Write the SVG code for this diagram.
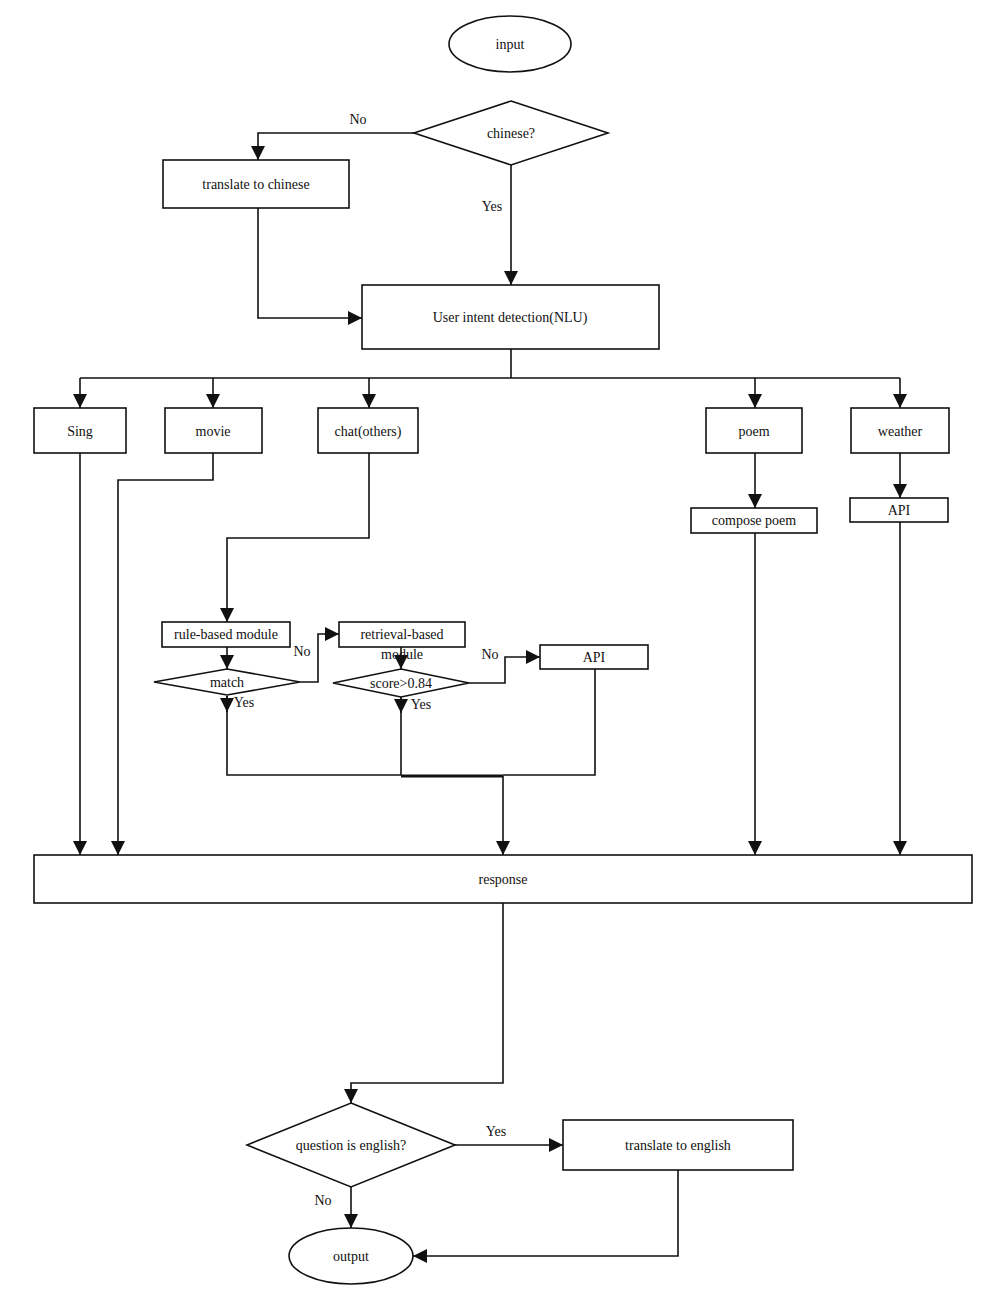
<svg xmlns="http://www.w3.org/2000/svg" width="1001" height="1307" viewBox="0 0 1001 1307">
<style>
.s{fill:#fff;stroke:#111;stroke-width:1.6}
.c{fill:none;stroke:#111;stroke-width:1.6}
text{font-family:"Liberation Serif",serif;font-size:14px;fill:#111;text-anchor:middle;dominant-baseline:central}
</style>
<defs><marker id="a" viewBox="0 0 10 10" refX="10" refY="5" markerWidth="9" markerHeight="9" markerUnits="userSpaceOnUse" orient="auto"><path d="M0,0L10,5L0,10z" fill="#111"/></marker>
<marker id="b" viewBox="0 0 10 10" refX="10" refY="5" markerWidth="14" markerHeight="14" markerUnits="userSpaceOnUse" orient="auto"><path d="M0,0L10,5L0,10z" fill="#111"/></marker></defs>
<rect width="1001" height="1307" fill="#fff"/>
<g id="connectors">
<path class="c" d="M414,133H258V160" marker-end="url(#b)"/>
<path class="c" d="M511,165V285" marker-end="url(#b)"/>
<path class="c" d="M258,208V318H362" marker-end="url(#b)"/>
<path class="c" d="M511,349V378M80,378H900"/>
<path class="c" d="M80,378V408" marker-end="url(#b)"/>
<path class="c" d="M213,378V408" marker-end="url(#b)"/>
<path class="c" d="M369,378V408" marker-end="url(#b)"/>
<path class="c" d="M755,378V408" marker-end="url(#b)"/>
<path class="c" d="M900,378V408" marker-end="url(#b)"/>
<path class="c" d="M80,453V855" marker-end="url(#b)"/>
<path class="c" d="M213,453V480H118V855" marker-end="url(#b)"/>
<path class="c" d="M369,453V538H227V622" marker-end="url(#b)"/>
<path class="c" d="M227,647V669" marker-end="url(#b)"/>
<path class="c" d="M300,682H318V634H339" marker-end="url(#b)"/>
<path class="c" d="M401,647V669" marker-end="url(#b)"/>
<path class="c" d="M469,683H505V657H540" marker-end="url(#b)"/>
<path class="c" d="M227,696V775H401M595,669V775H503"/>
<path class="c" d="M227,712V696" marker-end="url(#b)" transform="rotate(180 227 704)"/>
<path class="c" d="M401,697V775"/>
<path class="c" d="M401,713V697" marker-end="url(#b)" transform="rotate(180 401 705)"/>
<path fill="none" stroke="#111" stroke-width="3" d="M401,776H503"/>
<path class="c" d="M503,776V855" marker-end="url(#b)"/>
<path class="c" d="M755,453V508" marker-end="url(#b)"/>
<path class="c" d="M755,533V855" marker-end="url(#b)"/>
<path class="c" d="M900,453V498" marker-end="url(#b)"/>
<path class="c" d="M900,522V855" marker-end="url(#b)"/>
<path class="c" d="M503,903V1083H351V1103" marker-end="url(#b)"/>
<path class="c" d="M455,1145H563" marker-end="url(#b)"/>
<path class="c" d="M351,1187V1228" marker-end="url(#b)"/>
<path class="c" d="M678,1170V1256H413" marker-end="url(#b)"/>
<text x="358" y="119">No</text><text x="492" y="206">Yes</text>
<text x="302" y="651">No</text><text x="244" y="702">Yes</text>
<text x="490" y="654">No</text><text x="421" y="704">Yes</text>
<text x="496" y="1131">Yes</text><text x="323" y="1200">No</text>
</g>
<g id="input"><ellipse class="s" cx="510" cy="44" rx="61" ry="28"/><text x="510" y="44">input</text></g>
<g id="chinese"><polygon class="s" points="511,101 608,133 511,165 414,133"/><text x="511" y="133">chinese?</text></g>
<g id="translate-cn"><rect class="s" x="163" y="160" width="186" height="48"/><text x="256" y="184">translate to chinese</text></g>
<g id="nlu"><rect class="s" x="362" y="285" width="297" height="64"/><text x="510" y="317">User intent detection(NLU)</text></g>
<g id="sing"><rect class="s" x="34" y="408" width="92" height="45"/><text x="80" y="431">Sing</text></g>
<g id="movie"><rect class="s" x="165" y="408" width="97" height="45"/><text x="213" y="431">movie</text></g>
<g id="chat"><rect class="s" x="318" y="408" width="100" height="45"/><text x="368" y="431">chat(others)</text></g>
<g id="poem"><rect class="s" x="706" y="408" width="96" height="45"/><text x="754" y="431">poem</text></g>
<g id="weather"><rect class="s" x="851" y="408" width="98" height="45"/><text x="900" y="431">weather</text></g>
<g id="compose"><rect class="s" x="691" y="508" width="126" height="25"/><text x="754" y="520">compose poem</text></g>
<g id="api-weather"><rect class="s" x="850" y="498" width="98" height="24"/><text x="899" y="510">API</text></g>
<g id="rule"><rect class="s" x="162" y="622" width="128" height="25"/><text x="226" y="634">rule-based module</text></g>
<g id="retrieval"><rect class="s" x="339" y="622" width="126" height="25"/><text x="402" y="634">retrieval-based</text><text x="402" y="654">module</text></g>
<g id="api-chat"><rect class="s" x="540" y="645" width="108" height="24"/><text x="594" y="657">API</text></g>
<g id="match"><polygon class="s" points="227,669 300,682 227,695 154,682"/><text x="227" y="682">match</text></g>
<g id="score"><polygon class="s" points="401,669 469,683 401,697 333,683"/><text x="401" y="683">score&gt;0.84</text></g>
<g id="response"><rect class="s" x="34" y="855" width="938" height="48"/><text x="503" y="879">response</text></g>
<g id="question"><polygon class="s" points="351,1103 455,1145 351,1187 247,1145"/><text x="351" y="1145">question is english?</text></g>
<g id="translate-en"><rect class="s" x="563" y="1120" width="230" height="50"/><text x="678" y="1145">translate to english</text></g>
<g id="output"><ellipse class="s" cx="351" cy="1256" rx="62" ry="28"/><text x="351" y="1256">output</text></g>
</svg>
